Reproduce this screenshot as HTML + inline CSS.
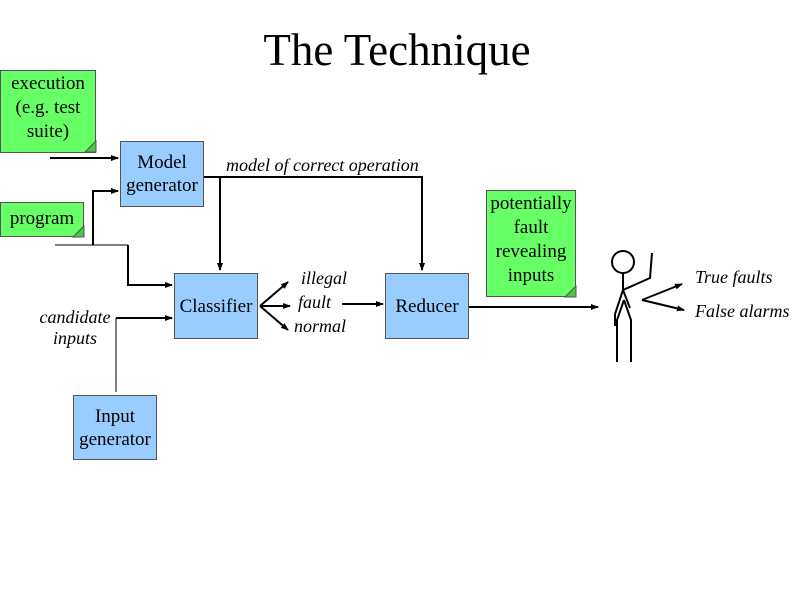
<!DOCTYPE html>
<html><head><style>
body{margin:0;width:794px;height:595px;background:#fff;overflow:hidden;position:relative;font-family:"Liberation Serif",serif}
.b{position:absolute;background:#99ccff;border:1px solid #555;box-sizing:border-box;display:flex;align-items:center;justify-content:center;text-align:center;font-size:19px;line-height:23px;color:#000}
.n{position:absolute;background:#66ff66;border:1px solid #555;box-sizing:border-box;text-align:center;font-size:19px;line-height:24px;color:#000}
.t{position:absolute;font-style:italic;font-size:18px;line-height:21px;white-space:nowrap}
</style></head><body>
<div style="position:absolute;left:0;width:794px;top:24px;text-align:center;font-size:45px;line-height:52px">The Technique</div>

<div class="n" style="left:0;top:70px;width:96px;height:83px;padding-top:1px">execution<br>(e.g. test<br>suite)</div>
<div class="n" style="left:0;top:202px;width:84px;height:35px;padding-top:4px">program</div>
<div class="n" style="left:486px;top:190px;width:90px;height:107px;padding-top:1px">potentially<br>fault<br>revealing<br>inputs</div>

<div class="b" style="left:120px;top:141px;width:84px;height:66px">Model<br>generator</div>
<div class="b" style="left:174px;top:273px;width:84px;height:66px">Classifier</div>
<div class="b" style="left:385px;top:273px;width:84px;height:66px">Reducer</div>
<div class="b" style="left:73px;top:395px;width:84px;height:65px">Input<br>generator</div>

<div class="t" style="left:226px;top:155px">model of correct operation</div>
<div class="t" style="left:38px;top:307px;width:74px;text-align:center">candidate<br>inputs</div>
<div class="t" style="left:301px;top:268px">illegal</div>
<div class="t" style="left:298px;top:292px">fault</div>
<div class="t" style="left:294px;top:316px">normal</div>
<div class="t" style="left:695px;top:267px">True faults</div>
<div class="t" style="left:695px;top:301px">False alarms</div>

<svg width="794" height="595" style="position:absolute;left:0;top:0">
<defs><marker id="a" markerWidth="8" markerHeight="8" refX="7" refY="4" orient="auto" markerUnits="userSpaceOnUse"><path d="M0,1 L8,4 L0,7z" fill="#000"/></marker></defs>
<g stroke="#000" stroke-width="2" fill="none">
<path d="M85,152 l11,-11 v11z" fill="#4c4" stroke="#555" stroke-width="1"/>
<path d="M73,237 l11,-11 v11z" fill="#4c4" stroke="#555" stroke-width="1"/>
<path d="M565,297 l11,-11 v11z" fill="#4c4" stroke="#555" stroke-width="1"/>
<line x1="50" y1="158" x2="118" y2="158" marker-end="url(#a)"/>
<line x1="55" y1="245" x2="128" y2="245" stroke-width="1"/>
<polyline points="93,245 93,191 118,191" marker-end="url(#a)"/>
<polyline points="128,245 128,285 172,285" marker-end="url(#a)"/>
<polyline points="116,392 116,318" stroke-width="1"/>
<polyline points="116,318 172,318" marker-end="url(#a)"/>
<polyline points="204,177 422,177 422,270" marker-end="url(#a)"/>
<line x1="220" y1="177" x2="220" y2="270" marker-end="url(#a)"/>
<line x1="260" y1="306" x2="288" y2="282" marker-end="url(#a)"/>
<line x1="260" y1="306" x2="290" y2="306" marker-end="url(#a)"/>
<line x1="260" y1="306" x2="288" y2="330" marker-end="url(#a)"/>
<line x1="342" y1="304" x2="383" y2="304" marker-end="url(#a)"/>
<line x1="469" y1="307" x2="598" y2="307" marker-end="url(#a)"/>
<line x1="642" y1="300" x2="682" y2="284" marker-end="url(#a)"/>
<line x1="642" y1="300" x2="684" y2="310" marker-end="url(#a)"/>
<circle cx="623" cy="262" r="11"/>
<polyline points="623,273 623,290 615,314 615,326"/>
<polyline points="623,290 630,308"/>
<polyline points="623,290 650,278 652,253"/>
<polyline points="624,300 617,320 617,362"/>
<polyline points="624,300 631,320 631,362"/>
</g>
</svg>
</body></html>
